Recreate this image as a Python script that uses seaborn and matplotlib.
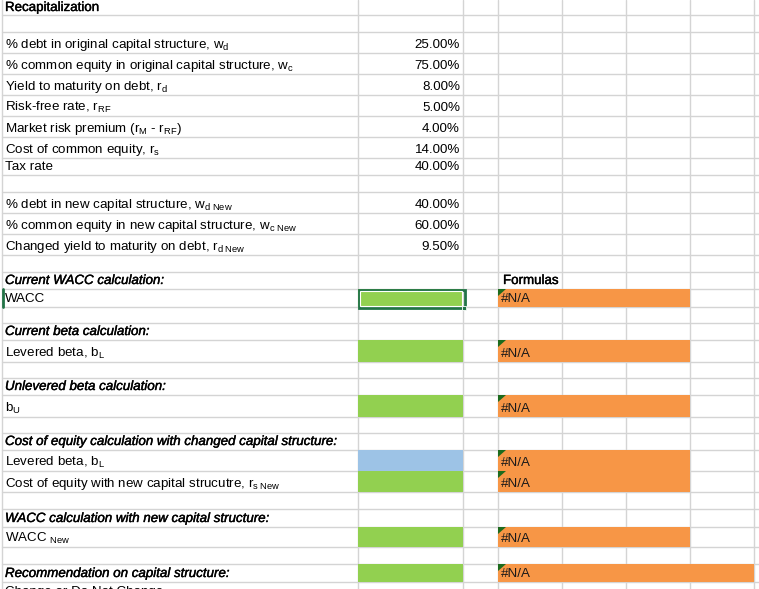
import matplotlib
matplotlib.use("Agg")
import matplotlib.pyplot as plt
from matplotlib.patches import Rectangle, Polygon
import matplotlib.patheffects as pe
import seaborn as sns

sns.set_theme(style="white")
plt.rcParams['font.family'] = ['Liberation Sans', 'DejaVu Sans']
plt.rcParams['mathtext.fontset'] = 'custom'
plt.rcParams['mathtext.rm'] = 'Liberation Sans'
plt.rcParams['mathtext.it'] = 'Liberation Sans:italic'
plt.rcParams['mathtext.bf'] = 'Liberation Sans:bold'

# ---- data ----
title = "Recapitalization"
labels = [
    "", "",
    r"% debt in original capital structure, w$_\mathrm{d}$",
    r"% common equity in original capital structure, w$_\mathrm{c}$",
    r"Yield to maturity on debt, r$_\mathrm{d}$",
    r"Risk-free rate, r$_\mathrm{RF}$",
    r"Market risk premium (r$_\mathrm{M}$ - r$_\mathrm{RF}$)",
    r"Cost of common equity, r$_\mathrm{s}$",
    "Tax rate",
    "",
    r"% debt in new capital structure, w$_\mathrm{d\ New}$",
    r"% common equity in new capital structure, w$_\mathrm{c\ New}$",
    r"Changed yield to maturity on debt, r$_\mathrm{d\ New}$",
    "",
    "Current WACC calculation:",
    "WACC",
    "",
    "Current beta calculation:",
    r"Levered beta, b$_\mathrm{L}$",
    "",
    "Unlevered beta calculation:",
    r"b$_\mathrm{U}$",
    "",
    "Cost of equity calculation with changed capital structure:",
    r"Levered beta, b$_\mathrm{L}$",
    r"Cost of equity with new capital strucutre, r$_\mathrm{s\ New}$",
    "",
    "WACC calculation with new capital structure:",
    r"WACC $_\mathrm{New}$",
    "",
    "Recommendation on capital structure:",
    "Change or Do Not Change",
]
header_rows = [14, 17, 20, 23, 27, 30]
values = {2: "25.00%", 3: "75.00%", 4: "8.00%", 5: "5.00%", 6: "4.00%",
          7: "14.00%", 8: "40.00%", 10: "40.00%", 11: "60.00%", 12: "9.50%"}
input_fill = {15: "green", 18: "green", 21: "green", 24: "blue", 25: "green",
              28: "green", 30: "green"}
formula_rows = [15, 18, 21, 24, 25, 28, 30]
formula_text = "#N/A"
formula_header = "Formulas"

# ---- layout (pixels) ----
W, H = 759, 589
row_edges = [-2, 15, 32, 53, 74, 95, 116, 137, 158, 175, 192, 213, 234, 255,
             272, 289, 307, 323, 340, 362, 378, 395, 417, 433, 450, 471, 492,
             509, 527, 547, 564, 582, 600]
col_edges = [2, 358, 463, 498, 562, 626, 690, 754, 820]
colors = {"green": "#92d050", "blue": "#9dc3e6", "orange": "#f79646"}
grid_c = "#d4d4d4"

fig = plt.figure(figsize=(W / 100, H / 100), dpi=100)
ax = fig.add_axes([0, 0, 1, 1])
ax.set_xlim(0, W)
ax.set_ylim(H, 0)
ax.axis("off")

heavy = [pe.withStroke(linewidth=0.3, foreground="#000000")]

# gridlines
for y in row_edges[1:]:
    ax.plot([col_edges[0], W], [y, y], color=grid_c, lw=1.0, zorder=1)
for x in col_edges[:-1]:
    ax.plot([x, x], [0, H], color=grid_c, lw=1.0, zorder=1)

fs = 9.6
# title
ax.text(5, row_edges[1] - 4, title, fontsize=fs, va="baseline", ha="left",
        color="#000000", zorder=5, path_effects=heavy)

for i, lab in enumerate(labels):
    if not lab:
        continue
    base = row_edges[i + 1] - 5
    if i in header_rows:
        ax.text(5, base, lab, fontsize=fs, fontstyle="italic",
                va="baseline", ha="left", color="#000", zorder=5,
                path_effects=heavy)
    else:
        ax.text(5, base, lab, fontsize=fs, va="baseline", ha="left",
                color="#000", zorder=5)

for i, v in values.items():
    base = row_edges[i + 1] - 5
    ax.text(col_edges[2] - 3, base, v, fontsize=fs, va="baseline", ha="right",
            color="#000", zorder=5)

# fills
for i, c in input_fill.items():
    y0, y1 = row_edges[i], row_edges[i + 1]
    ax.add_patch(Rectangle((col_edges[1], y0), col_edges[2] - col_edges[1],
                           y1 - y0, facecolor=colors[c], edgecolor="none",
                           zorder=2))

for i in formula_rows:
    y0, y1 = row_edges[i], row_edges[i + 1]
    xend = col_edges[7] if i == 30 else col_edges[6]
    ax.add_patch(Rectangle((col_edges[3], y0), xend - col_edges[3], y1 - y0,
                           facecolor=colors["orange"], edgecolor="none",
                           zorder=2))
    ax.add_patch(Polygon([(col_edges[3], y0), (col_edges[3] + 8, y0),
                          (col_edges[3], y0 + 7)], closed=True,
                         facecolor="#1d6b1d", edgecolor="none", zorder=4))
    ax.text(col_edges[3] + 3, y1 - 5, formula_text, fontsize=fs,
            va="baseline", ha="left", color="#1a1a1a", zorder=5)

ax.text(col_edges[3] + 5, row_edges[15] - 5, formula_header, fontsize=fs,
        va="baseline", ha="left", color="#000", zorder=5, path_effects=heavy)

# selection border on WACC input cell
sy0, sy1 = row_edges[15], row_edges[16]
ax.add_patch(Rectangle((col_edges[1] + 0.5, sy0 + 0.5),
                       col_edges[2] - col_edges[1] + 1, sy1 - sy0,
                       facecolor="none", edgecolor="#217346", lw=2.0, zorder=6))
ax.add_patch(Rectangle((col_edges[1] + 2, sy0 + 2),
                       col_edges[2] - col_edges[1] - 3, sy1 - sy0 - 3,
                       facecolor="none", edgecolor="white", lw=0.8, zorder=6))
ax.add_patch(Rectangle((col_edges[2] - 1, sy1 - 1), 4, 4,
                       facecolor="#217346", edgecolor="white", lw=0.6, zorder=7))
ax.plot([3, 3], [sy0, sy1], color="#217346", lw=2, zorder=6)

fig.savefig("out.png", dpi=100)
